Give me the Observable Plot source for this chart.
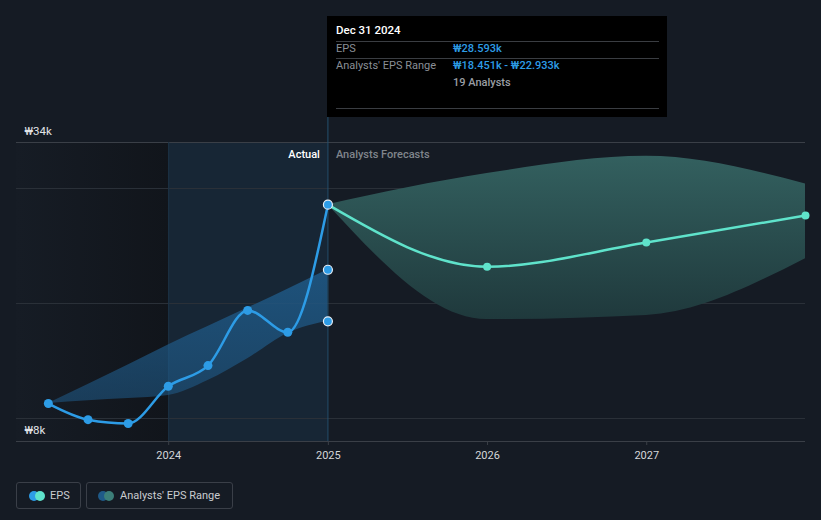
<!DOCTYPE html>
<html>
<head>
<meta charset="utf-8">
<script src="https://cdn.jsdelivr.net/npm/d3@7"></script>
<script src="https://cdn.jsdelivr.net/npm/@observablehq/plot@0.6"></script>
<style>
  html, body { margin: 0; padding: 0; background: #151b24; }
  body { width: 821px; height: 520px; overflow: hidden; font-family: Roboto, "Noto Sans", sans-serif; }
  #wrap { position: relative; width: 821px; height: 520px; }
  #tip { position: absolute; left: 327px; top: 16px; width: 340px; height: 101px; background: #000; color: #8a8f96; font-size: 11px; }
  #tip .row { position: absolute; left: 9px; right: 8px; }
  #tip .hr { position: absolute; left: 9px; right: 8px; height: 1px; background: #3a3d42; }
  #tip .v { position: absolute; left: 117px; color: #2d9ce6; font-weight: 500; }
  #legend { position: absolute; left: 0; top: 470px; width: 821px; height: 50px; }
  .lg { position: absolute; top: 12px; height: 25px; border: 1px solid #3a3f48; border-radius: 3px; color: #c9ccd0; font-size: 11px; line-height: 25px; }
  .dot { position: absolute; top: 8px; width: 10px; height: 10px; border-radius: 5px; }
</style>
</head>
<body>
<div id="wrap">
  <div id="chart"></div>
  <div id="tip">
    <div class="row" style="top:7px;color:#fff;font-weight:500;font-size:11.5px">Dec 31 2024</div>
    <div class="hr" style="top:25px"></div>
    <div class="row" style="top:26px">EPS<span class="v" id="tipEps"></span></div>
    <div class="hr" style="top:42px"></div>
    <div class="row" style="top:43px">Analysts' EPS Range<span class="v" id="tipRange"></span></div>
    <div class="row" style="top:60px"><span style="position:absolute;left:117px;color:#9a9ea4;font-weight:500" id="tipN"></span></div>
    <div class="hr" style="top:92px"></div>
  </div>
  <div id="legend">
    <div class="lg" style="left:16px;width:63px">
      <span class="dot" style="left:12px;background:#2d9ce6"></span>
      <span class="dot" style="left:18px;background:#5fe3cb"></span>
      <span style="position:absolute;left:33px">EPS</span>
    </div>
    <div class="lg" style="left:86px;width:145px">
      <span class="dot" style="left:11px;background:#1f5a88"></span>
      <span class="dot" style="left:17px;background:#3c7f79"></span>
      <span style="position:absolute;left:33px">Analysts' EPS Range</span>
    </div>
  </div>
</div>
<script>
// ---- Data (values in ₩ thousands) ----
const actualDates = ["2023-03-31","2023-06-30","2023-09-30","2023-12-31","2024-03-31","2024-06-30","2024-09-30","2024-12-31"];
const actualEps   = [11.3, 9.9, 9.57, 12.8, 14.6, 19.4, 17.5, 28.593];
const pastRangeLow  = [11.3, 11.55, 11.74, 12.0, 13.3, 15.2, 17.4, 18.451];
const pastRangeHigh = [11.3, 12.96, 14.65, 16.4, 18.0, 19.6, 21.25, 22.933];

const forecastDates = ["2024-12-31","2025-12-31","2026-12-31","2027-12-31"];
const forecastEps   = [28.593, 23.2, 25.3, 27.65];
const forecastLow   = [28.593, 18.6, 18.96, 23.9];
const forecastHigh  = [28.593, 31.3, 32.8, 30.4];

const yTickLabels = [{v: 34, label: "₩34k"}, {v: 8, label: "₩8k"}];
const gridValues = [10, 20, 30];
const xTickYears = ["2024-01-01","2025-01-01","2026-01-01","2027-01-01"];
const xDomain = ["2023-01-17","2027-12-31"];
const actualStart = "2024-01-01", actualEnd = "2024-12-31";
const tooltip = {date: "Dec 31 2024", eps: "₩28.593k", range: "₩18.451k - ₩22.933k", analysts: "19 Analysts"};

// ---- Build tables ----
const P = s => new Date(s);
const actual = actualDates.map((d, i) => ({date: P(d), eps: actualEps[i], lo: pastRangeLow[i], hi: pastRangeHigh[i]}));
const forecast = forecastDates.map((d, i) => ({date: P(d), eps: forecastEps[i], lo: forecastLow[i], hi: forecastHigh[i]}));
const lastActual = actual[actual.length - 1];
const rangeDots = [{date: lastActual.date, v: lastActual.lo}, {date: lastActual.date, v: lastActual.hi}];

document.getElementById("tipEps").textContent = tooltip.eps;
document.getElementById("tipRange").textContent = tooltip.range;
document.getElementById("tipN").textContent = tooltip.analysts;

const defs = () => {
  const d = d3.create("svg:defs");
  const g1 = d.append("linearGradient").attr("id", "fcGrad").attr("x1", 0).attr("y1", 0).attr("x2", 0).attr("y2", 1);
  g1.append("stop").attr("offset", "0%").attr("stop-color", "#33605f");
  g1.append("stop").attr("offset", "100%").attr("stop-color", "#1f393c");
  const g2 = d.append("linearGradient").attr("id", "leftGrad").attr("x1", 0).attr("y1", 0).attr("x2", 1).attr("y2", 0);
  g2.append("stop").attr("offset", "0%").attr("stop-color", "#161c25");
  g2.append("stop").attr("offset", "100%").attr("stop-color", "#11151b");
  const g3 = d.append("linearGradient").attr("id", "pastGrad").attr("x1", 0).attr("y1", 0).attr("x2", 0).attr("y2", 1);
  g3.append("stop").attr("offset", "0%").attr("stop-color", "#1f5a88").attr("stop-opacity", 0.85);
  g3.append("stop").attr("offset", "100%").attr("stop-color", "#1f5a88").attr("stop-opacity", 0.55);
  return d.node();
};

const chart = Plot.plot({
  width: 821,
  height: 470,
  marginLeft: 16,
  marginRight: 16,
  marginTop: 142,
  marginBottom: 29,
  style: {background: "#151b24", fontFamily: "Roboto, 'Noto Sans', sans-serif", overflow: "visible"},
  x: {type: "utc", domain: xDomain.map(P), axis: null},
  y: {type: "linear", domain: [8, 34], axis: null},
  marks: [
    defs,
    Plot.rect([{x1: P(xDomain[0]), x2: P(actualStart), y1: 8, y2: 34}], {x1: "x1", x2: "x2", y1: "y1", y2: "y2", fill: "url(#leftGrad)"}),
    Plot.rect([{x1: P(actualStart), x2: P(actualEnd), y1: 8, y2: 34}], {x1: "x1", x2: "x2", y1: "y1", y2: "y2", fill: "#2d9ce6", fillOpacity: 0.09}),
    Plot.ruleY(gridValues, {stroke: "#2a3038", strokeWidth: 1}),
    Plot.ruleY([34], {stroke: "#3a3f47", strokeWidth: 1}),
    Plot.ruleX([{x: P(actualStart), y1: 8, y2: 34}], {x: "x", y1: "y1", y2: "y2", stroke: "#1c3347", strokeWidth: 1}),
    Plot.areaY(actual, {x: "date", y1: "lo", y2: "hi", curve: "monotone-x", fill: "url(#pastGrad)"}),
    Plot.areaY(forecast, {x: "date", y1: "lo", y2: "hi", curve: "monotone-x", fill: "url(#fcGrad)"}),
    Plot.ruleX([{x: lastActual.date, y1: 8, y2: 41.3}], {x: "x", y1: "y1", y2: "y2", stroke: "#24506f", strokeWidth: 1}),
    Plot.ruleY([8], {stroke: "#3a3f47", strokeWidth: 1}),
    Plot.axisX(xTickYears.map(P), {tickFormat: d3.utcFormat("%Y"), tickSize: 4, tickPadding: 6, stroke: "#3a3f47", color: "#d4d6d9", fontSize: 11}),
    Plot.line(forecast, {x: "date", y: "eps", curve: "monotone-x", stroke: "#5fe3cb", strokeWidth: 2.5}),
    Plot.line(actual, {x: "date", y: "eps", curve: "monotone-x", stroke: "#2d9ce6", strokeWidth: 2.5}),
    Plot.dot(forecast.slice(1), {x: "date", y: "eps", r: 4, fill: "#5fe3cb"}),
    Plot.dot(actual.slice(0, -1), {x: "date", y: "eps", r: 4.5, fill: "#2d9ce6"}),
    Plot.dot([lastActual], {x: "date", y: "eps", r: 4.5, fill: "#2d9ce6", stroke: "#e8eef5", strokeWidth: 1.2}),
    Plot.dot(rangeDots, {x: "date", y: "v", r: 4.5, fill: "#2d9ce6", stroke: "#e8eef5", strokeWidth: 1.2}),
    Plot.text(yTickLabels, {x: P(xDomain[0]), y: "v", text: "label", dx: 8, dy: -11, textAnchor: "start", fill: "#e2e4e7", fontSize: 11.5}),
    Plot.text([{t: "Actual", x: lastActual.date, y: 34}], {x: "x", y: "y", text: "t", dx: -8, dy: 12, textAnchor: "end", fill: "#ffffff", fontSize: 11, fontWeight: 500}),
    Plot.text([{t: "Analysts Forecasts", x: lastActual.date, y: 34}], {x: "x", y: "y", text: "t", dx: 8, dy: 12, textAnchor: "start", fill: "#80858c", fontSize: 11, fontWeight: 500})
  ]
});
document.getElementById("chart").appendChild(chart);
</script>
</body>
</html>
